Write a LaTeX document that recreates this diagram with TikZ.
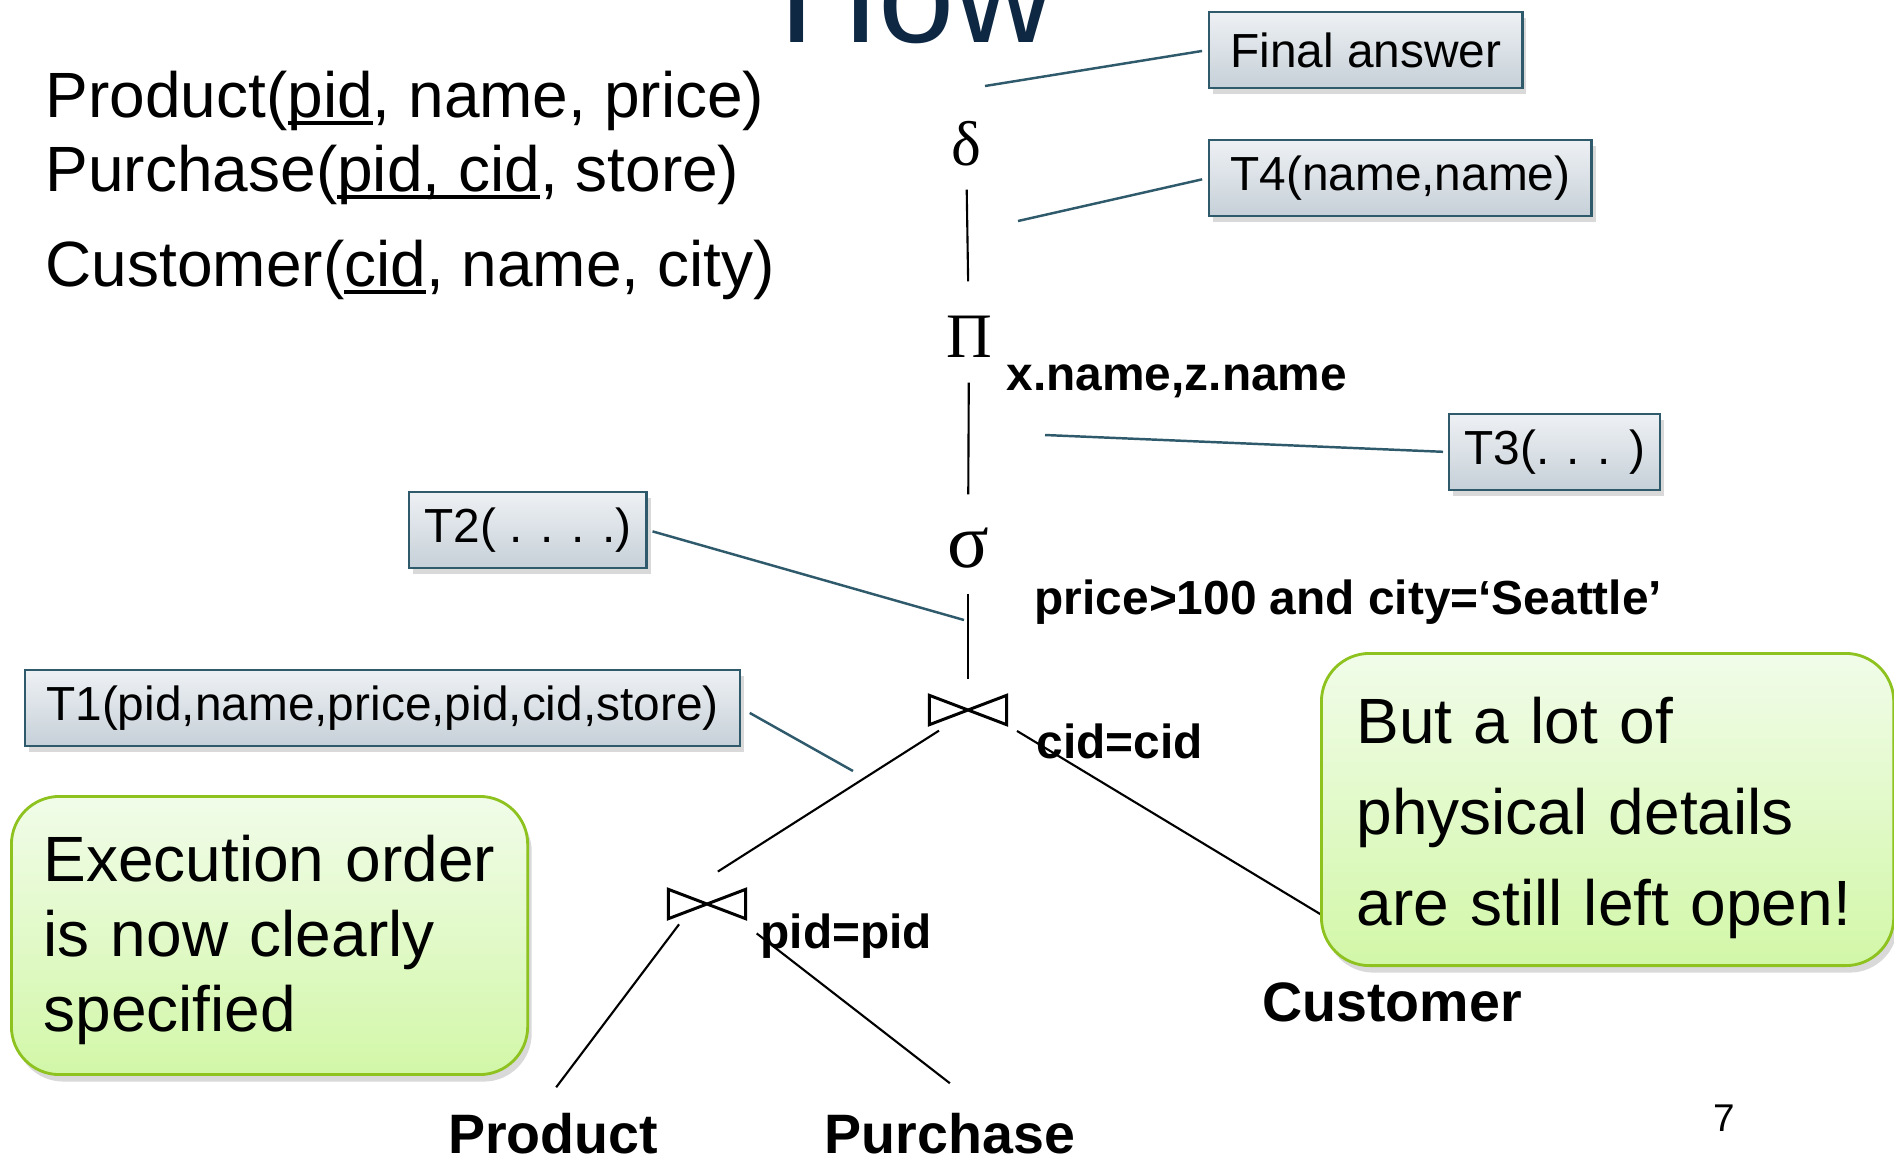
\documentclass[tikz,border=0pt]{standalone}
\usepackage{fontspec}
\setmainfont{Liberation Sans}
\newfontfamily\grkfont{Liberation Serif}
\usetikzlibrary{shadows}
\definecolor{titlenavy}{HTML}{0E2742}
\definecolor{calloutline}{HTML}{2F5A6C}
\definecolor{boxtop}{HTML}{EEF1F4}
\definecolor{boxbottom}{HTML}{C6D0D8}
\definecolor{notetop}{HTML}{F1FCE9}
\definecolor{notebottom}{HTML}{D2F7A8}
\definecolor{noteline}{HTML}{8DC21F}
\newlength{\keylen}
\newcommand{\keyul}[1]{\settowidth{\keylen}{#1}\rlap{\rule[-0.12em]{\keylen}{0.06em}}#1}
\newcommand{\notetop}[1]{\vrule height #1 width 0pt\relax}
\begin{document}
\begin{tikzpicture}[x=0.01cm,y=-0.01cm,
    schema/.style={anchor=base west,inner sep=0pt,font=\fontsize{18.2}{22}\selectfont},
    op/.style={circle,inner sep=0pt,minimum size=0.9cm,font=\grkfont\fontsize{18}{18}\selectfont},
    joinop/.style={inner sep=0pt,minimum width=0.76cm,minimum height=0.28cm},
    cond/.style={anchor=base west,inner sep=0pt,font=\bfseries\fontsize{13.6}{16}\selectfont},
    rel/.style={anchor=base,inner sep=0pt,font=\bfseries\fontsize{15.8}{18}\selectfont},
    tbox/.style={anchor=west,draw=calloutline,line width=0.7pt,top color=boxtop,bottom color=boxbottom,
        minimum height=0.76cm,inner xsep=0.21cm,font=\fontsize{13.6}{16}\selectfont,
        drop shadow={opacity=0.3,shadow xshift=0.04cm,shadow yshift=-0.06cm}},
    note/.style={anchor=north west,draw=noteline,line width=0.8pt,rounded corners=0.48cm,
        top color=notetop,bottom color=notebottom,align=left,
        drop shadow={opacity=0.3,shadow xshift=0.04cm,shadow yshift=-0.07cm}},
    callout/.style={calloutline,line width=0.7pt},
    edge/.style={line width=0.6pt}]
    \useasboundingbox (0,0) rectangle (1894,1160);
    \node[anchor=base west,inner sep=0pt,text=titlenavy,font=\fontsize{39}{39}\selectfont] (title) at (779,42) {How};
    \node[schema] (prodschema) at (45,117) {Product(\keyul{pid}, name, price)};
    \node[schema] (purchschema) at (45,191) {Purchase(\keyul{pid, cid}, store)};
    \node[schema] (custschema) at (45,286) {Customer(\keyul{cid}, name, city)};

    \node[op] (dl) at (966,144) {δ};
    \node[op] (pj) at (969,337) {Π};
    \node[cond] (pjlab) at (1006,390) {x.name,z.name};
    \node[op,font=\grkfont\fontsize{22}{22}\selectfont] (sg) at (968,548) {σ};
    \node[cond] (sglab) at (1034,614) {price>100 and city=‘Seattle’};
    \node[joinop] (j1) at (968,710) {};
    \node[cond] (j1lab) at (1036,758) {cid=cid};
    \node[joinop] (j2) at (707,904) {};
    \node[cond] (j2lab) at (760,948) {pid=pid};
    \node[rel] (prod) at (553,1153) {Product};
    \node[rel] (purch) at (950,1153) {Purchase};
    \node[rel] (cust) at (1392,1021) {Customer};
    \node[anchor=base,inner sep=0pt,font=\fontsize{11}{11}\selectfont] (pg) at (1724,1131) {7};
    \coordinate (custp) at (1340,926);

    \foreach \j in {j1,j2}
        \draw[line width=0.85pt] (\j.south west) -- (\j.north west) -- (\j.south east) -- (\j.north east) -- cycle;
    \draw[edge,shorten >=0.1cm] (dl) -- (pj);
    \draw[edge,shorten >=0.08cm] (pj) -- (sg);
    \draw[edge,shorten >=0.16cm] (sg) -- (j1);
    \draw[edge,shorten <=0.11cm,shorten >=0.33cm] ([xshift=0.19cm]j1.south west) -- ([xshift=-0.17cm]j2.north);
    \draw[edge,shorten <=0.12cm] (j1.south east) -- (custp);
    \draw[edge,shorten <=0.07cm,shorten >=0.31cm] ([xshift=0.15cm]j2.south west) -- ([xshift=-0.155cm]prod.north);
    \draw[edge,shorten <=0.24cm,shorten >=0.47cm] ([xshift=-0.08cm]j2.south east) -- ([xshift=0.37cm]purch.north);

    \node[tbox] (fin) at (1208,50) {Final answer};
    \node[tbox] (t4) at (1208,178) {T4(name,name)};
    \node[tbox,inner xsep=0.15cm] (t3) at (1448,452) {T3(. . . )};
    \node[tbox,inner xsep=0.15cm] (t2) at (408,530) {T2( . . . .)};
    \node[tbox] (t1) at (24,708) {T1(pid,name,price,pid,cid,store)};
    \coordinate (finp) at (985,86);
    \coordinate (t4p) at (1018,221);
    \coordinate (t3p) at (1045,435);
    \coordinate (t2p) at (964,620);
    \coordinate (t1p) at (853,771);
    \draw[callout,shorten <=0.06cm] (fin.west) -- (finp);
    \draw[callout,shorten <=0.06cm] (t4.west) -- (t4p);
    \draw[callout,shorten <=0.05cm] (t3.west) -- (t3p);
    \draw[callout,shorten <=0.05cm] (t2.east) -- (t2p);
    \draw[callout,shorten <=0.1cm] (t1.east) -- (t1p);

    \node[note,text width=4.52cm,inner xsep=0.32cm,minimum height=2.78cm,
        font=\fontsize{18.2}{21.3}\selectfont] (exec) at (10,795)
        {\notetop{0.56cm}Execution order\\is now clearly\\specified};
    \node[note,text width=5.02cm,inner xsep=0.35cm,minimum height=3.12cm,
        font=\fontsize{18.2}{25.9}\selectfont] (open) at (1320,652)
        {\notetop{0.64cm}But a lot of\\physical details\\are still left open!};
\end{tikzpicture}
\end{document}
